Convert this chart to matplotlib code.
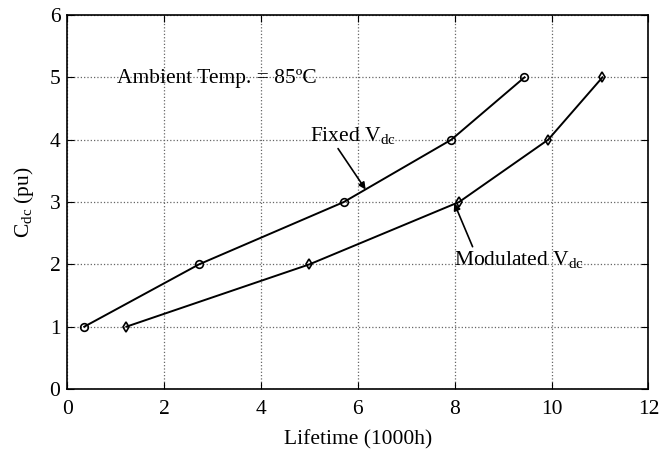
import matplotlib
matplotlib.use("Agg")
import matplotlib.pyplot as plt

plt.rcParams['font.family'] = ['Liberation Serif', 'DejaVu Serif']
plt.rcParams['mathtext.fontset'] = 'custom'
plt.rcParams['mathtext.rm'] = 'Liberation Serif'
plt.rcParams['mathtext.it'] = 'Liberation Serif:italic'

# C_dc (pu) levels and lifetime (1000h)
cdc = [1, 2, 3, 4, 5]
life_fixed = [0.35, 2.72, 5.71, 7.93, 9.44]
life_modulated = [1.22, 5.0, 8.09, 9.93, 11.05]

xticks = [0, 2, 4, 6, 8, 10, 12]
yticks = [0, 1, 2, 3, 4, 5, 6]

fs = 15.5

fig = plt.figure(figsize=(6.69, 4.49), dpi=100)
ax = fig.add_axes([0.1006, 0.1336, 0.8687, 0.833])

ax.plot(life_fixed, cdc, 'k-', lw=1.4, marker='o', ms=5.5, mfc='none', mec='k', mew=1.2)
ax.plot(life_modulated, cdc, 'k-', lw=1.4, marker='d', ms=5.5, mfc='none', mec='k', mew=1.2)

ax.set_xlim(0, 12)
ax.set_ylim(0, 6)
ax.set_xticks(xticks)
ax.set_yticks(yticks)
ax.grid(True, ls=':', color='#666666', lw=0.9)
ax.tick_params(direction='in', top=True, right=True, labelsize=fs, length=5, pad=5)
ax.tick_params(axis='x', pad=8)
for s in ax.spines.values():
    s.set_linewidth(1.2)

ax.set_xlabel('Lifetime (1000h)', fontsize=fs, labelpad=8)
ax.set_ylabel(r'C$_{\rm dc}$ (pu)', fontsize=fs, labelpad=10)

ax.text(1.02, 4.98, 'Ambient Temp. = 85ºC', fontsize=fs, va='center', ha='left')
ax.annotate(r'Fixed V$_{\rm dc}$', xy=(6.16, 3.2), xytext=(5.02, 4.07),
            fontsize=fs, va='center', ha='left',
            arrowprops=dict(arrowstyle='-|>', color='k', lw=1.2, mutation_scale=10,
                            shrinkA=0, shrinkB=0,
                            relpos=(0.3, 0.0)))
ax.annotate(r'Modulated V$_{\rm dc}$', xy=(7.99, 2.98), xytext=(7.99, 2.07),
            fontsize=fs, va='center', ha='left',
            arrowprops=dict(arrowstyle='-|>', color='k', lw=1.2, mutation_scale=10,
                            shrinkA=0, shrinkB=0,
                            relpos=(0.15, 1.0)))

fig.savefig('out.png', dpi=100)
